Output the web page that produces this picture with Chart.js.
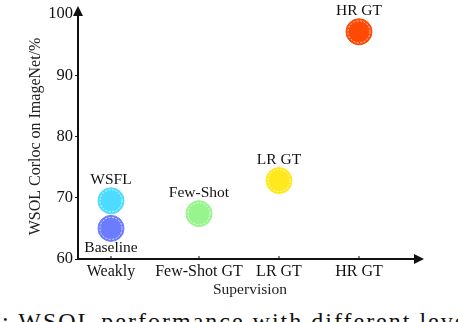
<!DOCTYPE html>
<html>
<head>
<meta charset="utf-8">
<script src="https://cdn.jsdelivr.net/npm/chart.js@4"></script>
<style>
  body { margin: 0; background: #fff; width: 458px; height: 322px; overflow: hidden; position: relative; }
  #wrap { position: absolute; left: 0; top: 0; width: 458px; height: 302px; }
  #caption { position: absolute; left: 2px; top: 309px; font: 24px 'Liberation Serif', serif; line-height: 24px; letter-spacing: 2px; white-space: nowrap; color: #111; }
</style>
</head>
<body>
<div id="wrap"><canvas id="myChart"></canvas></div>
<div id="caption">: WSOL performance with different levels</div>
<script>
'use strict';

// *********** DATA ***********
let xCategories = ['Weakly', 'Few-Shot GT', 'LR GT', 'HR GT'];
let xPositions = [1, 2.1, 3.1, 4.1];

let methodNames = ['Baseline', 'WSFL', 'Few-Shot', 'LR GT', 'HR GT'];
let methodX = [1, 1, 2.1, 3.1, 4.1];
let methodCorloc = [65.0, 69.5, 67.4, 72.8, 97.1];
let labelBelow = [true, false, false, false, false];
let methodColors = ['#6b7cff', '#4ddcff', '#98f58e', '#ffe81c', '#ff4a05'];

let yTicks = [60, 70, 80, 90, 100];

// ********** CANVAS ***********
let ctx = document.getElementById('myChart').getContext('2d');

let serif = "'Liberation Serif', 'DejaVu Serif', serif";

// axis arrows, small x ticks, dashed rings and point labels
let decorPlugin = {
  id: 'decor',
  afterDatasetsDraw(chart) {
    let c = chart.ctx;
    let area = chart.chartArea;
    let xs = chart.scales.x;
    let meta = chart.getDatasetMeta(0);

    c.save();
    // dashed white inner ring
    meta.data.forEach(function (pt) {
      c.beginPath();
      c.setLineDash([2, 1.5]);
      c.strokeStyle = 'rgba(255,255,255,0.9)';
      c.lineWidth = 0.8;
      c.arc(pt.x, pt.y, 11, 0, Math.PI * 2);
      c.stroke();
    });
    c.setLineDash([]);

    // labels
    c.fillStyle = '#111';
    c.font = '15.5px ' + serif;
    c.textAlign = 'center';
    c.textBaseline = 'middle';
    meta.data.forEach(function (pt, i) {
      let dy = labelBelow[i] ? 20 : -21;
      c.fillText(methodNames[i], pt.x, pt.y + dy);
    });

    // axes lines
    c.strokeStyle = '#111';
    c.lineWidth = 2;
    c.beginPath();
    c.moveTo(area.left, area.bottom);
    c.lineTo(area.left, area.top - 2);
    c.moveTo(area.left, area.bottom);
    c.lineTo(area.right - 4, area.bottom);
    c.stroke();

    // ticks pointing up on x axis
    c.lineWidth = 1;
    c.beginPath();
    xPositions.forEach(function (v) {
      let px = xs.getPixelForValue(v);
      c.moveTo(px, area.bottom);
      c.lineTo(px, area.bottom - 3);
    });
    c.stroke();

    // arrow heads
    c.fillStyle = '#111';
    c.beginPath();
    c.moveTo(area.left, area.top - 8);
    c.lineTo(area.left - 5, area.top + 2);
    c.lineTo(area.left + 5, area.top + 2);
    c.closePath();
    c.fill();
    c.beginPath();
    c.moveTo(area.right + 2, area.bottom);
    c.lineTo(area.right - 8, area.bottom - 5);
    c.lineTo(area.right - 8, area.bottom + 5);
    c.closePath();
    c.fill();
    c.restore();
  }
};

let points = [];
for (let i = 0; i < methodNames.length; i++) {
  points.push({ x: methodX[i], y: methodCorloc[i] });
}

let myChartObj = {
  type: 'scatter',
  data: {
    datasets: [{
      label: 'WSOL',
      data: points,
      backgroundColor: methodColors,
      borderColor: methodColors,
      borderWidth: 1,
      pointRadius: 13,
      pointHoverRadius: 13
    }]
  },
  options: {
    responsive: true,
    maintainAspectRatio: false,
    animation: false,
    layout: { padding: { top: 10, right: 36, bottom: 0, left: 0 } },
    plugins: {
      legend: { display: false },
      tooltip: { enabled: false }
    },
    scales: {
      x: {
        type: 'linear',
        min: 0.5875,
        max: 4.8875,
        afterBuildTicks: function (scale) {
          scale.ticks = xPositions.map(function (v) { return { value: v }; });
        },
        afterFit: function (scale) { scale.height = 43; },
        grid: { display: false, drawTicks: false },
        border: { display: false },
        ticks: {
          padding: 3,
          color: '#111',
          font: { family: serif, size: 16 },
          maxRotation: 0,
          autoSkip: false,
          callback: function (value) {
            let idx = xPositions.indexOf(value);
            return idx >= 0 ? xCategories[idx] : '';
          }
        },
        title: {
          display: true,
          text: 'Supervision',
          color: '#222',
          font: { family: serif, size: 15.5 },
          padding: { top: 0, bottom: 3 }
        }
      },
      y: {
        min: 60,
        max: 100,
        afterBuildTicks: function (scale) {
          scale.ticks = yTicks.map(function (v) { return { value: v }; });
        },
        afterFit: function (scale) { scale.width = 78; },
        grid: { drawOnChartArea: false, drawTicks: true, tickLength: 3, color: '#111' },
        border: { display: false },
        ticks: {
          padding: 2,
          color: '#111',
          font: { family: serif, size: 16.5 }
        },
        title: {
          display: true,
          text: 'WSOL Corloc on ImageNet/%',
          color: '#222',
          font: { family: serif, size: 16 },
          padding: { top: 26, bottom: 0 }
        }
      }
    }
  },
  plugins: [decorPlugin]
};

// wait for the serif font so canvas text doesn't fall back
document.fonts.load('16px "Liberation Serif"').then(function () {
  const myChart = new Chart(ctx, myChartObj);
});
</script>
</body>
</html>
